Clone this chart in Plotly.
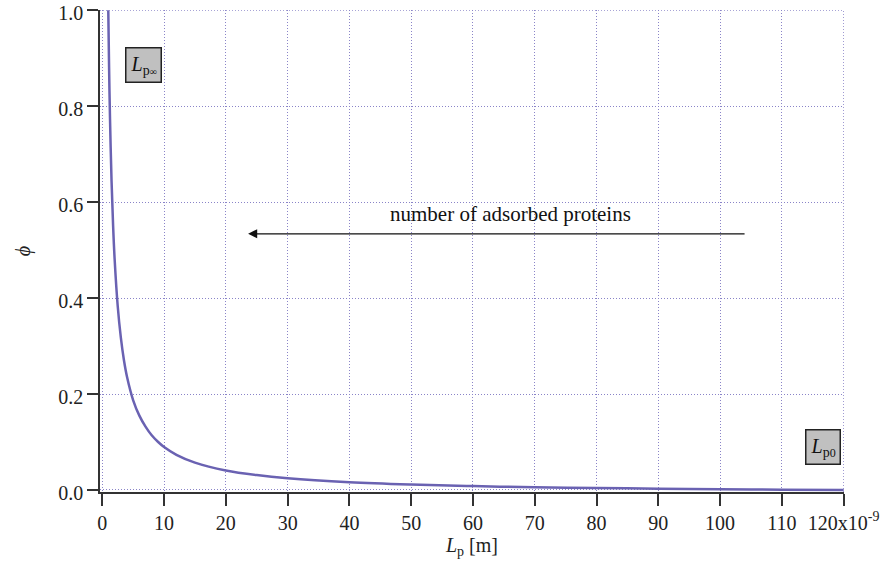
import plotly.graph_objects as go

# Lp in nm (axis shown in units of 10^-9 m), phi values
lp_nm = [0.97, 1.1, 1.25, 1.5, 1.75, 2.0, 2.5, 3.0, 3.5, 4.0, 5.0, 6.0, 7.0, 8.0, 9.0,
         10, 12, 15, 20, 25, 30, 40, 50, 60, 70, 80, 90, 100, 110, 120]
phi = [1.0, 0.881, 0.774, 0.644, 0.551, 0.481, 0.383, 0.318, 0.271, 0.236, 0.187, 0.155,
       0.132, 0.114, 0.1005, 0.0896, 0.0733, 0.057, 0.0407, 0.031, 0.0244, 0.0163, 0.0114,
       0.0081, 0.0058, 0.0041, 0.0027, 0.0016, 0.0007, 0.0]

x_ticks = [0, 10, 20, 30, 40, 50, 60, 70, 80, 90, 100, 110, 120]
x_ticktext = ["0", "10", "20", "30", "40", "50", "60", "70", "80", "90", "100", "110",
              "120x10<sup>-9</sup>"]
y_ticks = [0.0, 0.2, 0.4, 0.6, 0.8, 1.0]
y_ticktext = ["0.0", "0.2", "0.4", "0.6", "0.8", "1.0"]

FONT = "Liberation Serif, DejaVu Serif, serif"
GRID = "#8a84c8"
FS = 20

fig = go.Figure()
fig.add_trace(go.Scatter(x=lp_nm, y=phi, mode="lines", line=dict(color="#6a62b2", width=2.5, shape="spline"),
                         showlegend=False, cliponaxis=True))

fig.update_layout(
    width=883, height=568,
    margin=dict(l=100, r=39, t=10, b=76, autoexpand=False),
    paper_bgcolor="white", plot_bgcolor="white",
    font=dict(family=FONT, size=FS, color="#222"),
    xaxis=dict(range=[-0.37, 120.05], tickvals=x_ticks, ticktext=x_ticktext, automargin=False,
               showgrid=True, gridcolor=GRID, griddash="1px,2px", gridwidth=1,
               zeroline=False, showline=True, linecolor="#333", linewidth=1.5,
               ticks="outside", ticklen=12, tickcolor="#333", tickwidth=1.5,
               tickfont=dict(family=FONT, size=FS), ticklabeloverflow="allow",
               title=dict(text="<i>L</i><sub>p</sub> [m]", font=dict(family=FONT, size=FS), standoff=4)),
    yaxis=dict(range=[-0.0042, 1.0005], tickvals=y_ticks, ticktext=y_ticktext, automargin=False,
               showgrid=True, gridcolor=GRID, griddash="1px,2px", gridwidth=1,
               zeroline=False, showline=True, linecolor="#333", linewidth=1.5,
               ticks="outside", ticklen=11, tickcolor="#333", tickwidth=1.5,
               tickfont=dict(family=FONT, size=FS), ticklabeloverflow="allow", ticklabelshift=3,
               title=dict(text="<i>ϕ</i>", font=dict(family=FONT, size=FS), standoff=22)),
)

# right and top dotted border lines
fig.add_shape(type="line", xref="x", yref="paper", x0=120, x1=120, y0=0, y1=1,
              line=dict(color=GRID, width=1, dash="1px,2px"))
fig.add_shape(type="line", xref="paper", yref="y", x0=0, x1=1, y0=1.0, y1=1.0,
              line=dict(color=GRID, width=1, dash="1px,2px"))

fig.add_annotation(x=6.7, y=0.886, xref="x", yref="y",
                   text="<i>L</i><sub>p<span style='font-size:10px'>∞</span></sub>",
                   showarrow=False, bgcolor="#c0c0c0", bordercolor="#222", borderwidth=1.5,
                   borderpad=4, font=dict(family=FONT, size=FS, color="#111"))
fig.add_annotation(x=116.6, y=0.089, xref="x", yref="y",
                   text="<i>L</i><sub>p<span style='font-size:12px'>0</span></sub>",
                   showarrow=False, bgcolor="#c0c0c0", bordercolor="#222", borderwidth=1.5,
                   borderpad=4, font=dict(family=FONT, size=FS, color="#111"))

fig.add_annotation(x=66, y=0.576, xref="x", yref="y", text="number of adsorbed proteins",
                   showarrow=False, font=dict(family=FONT, size=21, color="#111"))
fig.add_annotation(x=23.6, y=0.534, ax=104.2, ay=0.534, xref="x", yref="y", axref="x", ayref="y",
                   text="", showarrow=True, arrowhead=2, arrowsize=1.4, arrowwidth=1.3, arrowcolor="#111")

fig.write_html("out.html")
